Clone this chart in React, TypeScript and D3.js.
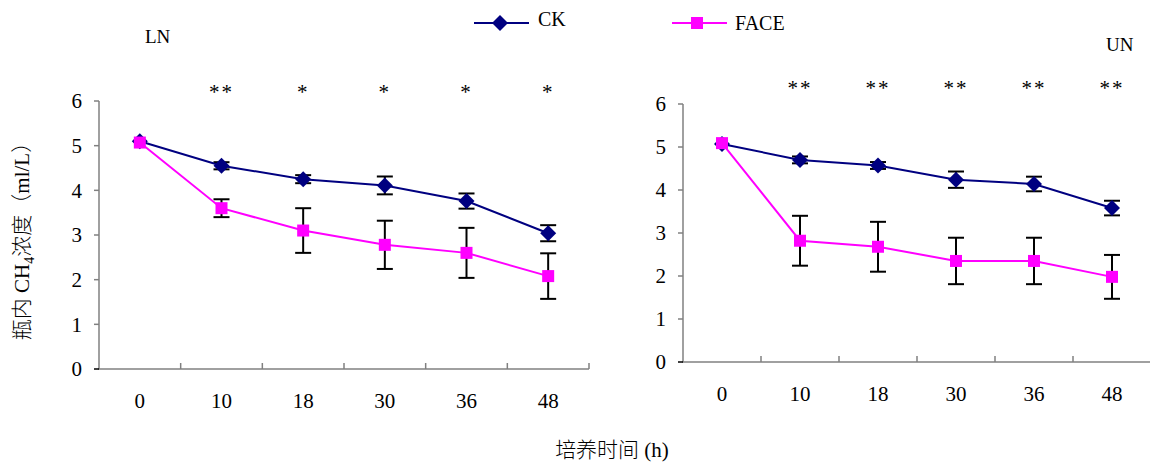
import * as d3 from "d3";

const hours = ["0", "10", "18", "30", "36", "48"];
const yTicks = [0, 1, 2, 3, 4, 5, 6];

const lnCK = [5.1, 4.55, 4.25, 4.11, 3.76, 3.04];
const lnCKErr = [0, 0.08, 0.09, 0.2, 0.17, 0.18];
const lnFACE = [5.07, 3.6, 3.1, 2.78, 2.6, 2.08];
const lnFACEErr = [0, 0.2, 0.5, 0.54, 0.56, 0.51];
const lnStars = ["", "**", "*", "*", "*", "*"];

const unCK = [5.07, 4.7, 4.57, 4.24, 4.14, 3.58];
const unCKErr = [0, 0.08, 0.08, 0.19, 0.17, 0.17];
const unFACE = [5.09, 2.82, 2.68, 2.35, 2.35, 1.98];
const unFACEErr = [0, 0.58, 0.58, 0.54, 0.54, 0.51];
const unStars = ["", "**", "**", "**", "**", "**"];

const CK_COLOR = "#000080";
const FACE_COLOR = "#FF00FF";
const AXIS = "#808080";
const FONT = "'Liberation Serif', 'Times New Roman', serif";
const CJK = "'Liberation Serif', 'Noto Sans CJK SC', serif";

// square rotated 45 degrees
const diamondPath = "M0,-8L8,0L0,8L-8,0Z";

type PanelProps = {
  x0: number;
  x1: number;
  yTop: number;
  yBottom: number;
  ck: number[];
  ckErr: number[];
  face: number[];
  faceErr: number[];
  stars: string[];
  starY: number;
};

const Panel = ({ x0, x1, yTop, yBottom, ck, ckErr, face, faceErr, stars, starY }: PanelProps) => {
  const x = d3.scaleBand().domain(hours).range([x0, x1]);
  const y = d3.scaleLinear().domain([0, 6]).range([yBottom, yTop]);
  const cx = (h: string) => (x(h) as number) + x.bandwidth() / 2;
  const line = d3
    .line<number>()
    .x((_, i) => cx(hours[i]))
    .y((d) => y(d));

  const errBar = (vals: number[], errs: number[], key: string) =>
    vals.map((v, i) =>
      errs[i] > 0 ? (
        <g key={key + i} stroke="#000" strokeWidth={2}>
          <line x1={cx(hours[i])} x2={cx(hours[i])} y1={y(v + errs[i])} y2={y(v - errs[i])} />
          <line x1={cx(hours[i]) - 8} x2={cx(hours[i]) + 8} y1={y(v + errs[i])} y2={y(v + errs[i])} />
          <line x1={cx(hours[i]) - 8} x2={cx(hours[i]) + 8} y1={y(v - errs[i])} y2={y(v - errs[i])} />
        </g>
      ) : null
    );

  return (
    <g>
      {/* axes */}
      <line x1={x0} x2={x0} y1={yTop} y2={yBottom} stroke={AXIS} strokeWidth={1.5} />
      <line x1={x0 - 1} x2={x1} y1={yBottom} y2={yBottom} stroke={AXIS} strokeWidth={1.5} />
      {yTicks.map((t) => (
        <g key={"yt" + t}>
          <line x1={x0 - 5} x2={x0} y1={y(t)} y2={y(t)} stroke={t === 0 ? "#000" : AXIS} strokeWidth={1.5} />
          <text x={x0 - 17} y={y(t)} dy="0.35em" textAnchor="end" fontSize={21} fontFamily={FONT}>
            {t}
          </text>
        </g>
      ))}
      {hours.slice(1).map((h) => (
        <line key={"xt" + h} x1={x(h)} x2={x(h)} y1={yBottom} y2={yBottom - 6} stroke={AXIS} strokeWidth={1.5} />
      ))}
      <line x1={x1} x2={x1} y1={yBottom} y2={yBottom - 6} stroke={AXIS} strokeWidth={1.5} />
      {hours.map((h) => (
        <text key={"xl" + h} x={cx(h)} y={yBottom + 39} textAnchor="middle" fontSize={21} fontFamily={FONT}>
          {h}
        </text>
      ))}
      {/* significance */}
      {stars.map((s, i) =>
        s ? (
          <text key={"s" + i} x={cx(hours[i])} y={starY} textAnchor="middle" fontSize={21} fontFamily={FONT} letterSpacing={2}>
            {s}
          </text>
        ) : null
      )}
      {errBar(ck, ckErr, "ce")}
      {errBar(face, faceErr, "fe")}
      <path d={line(ck) as string} fill="none" stroke={CK_COLOR} strokeWidth={2} />
      <path d={line(face) as string} fill="none" stroke={FACE_COLOR} strokeWidth={2} />
      {ck.map((v, i) => (
        <path key={"cp" + i} d={diamondPath} transform={`translate(${cx(hours[i])},${y(v)})`} fill={CK_COLOR} />
      ))}
      {face.map((v, i) => (
        <rect key={"fp" + i} x={cx(hours[i]) - 6} y={y(v) - 6} width={12} height={12} fill={FACE_COLOR} />
      ))}
    </g>
  );
};

export default function App() {
  return (
    <svg width={1150} height={464} style={{ position: "absolute", left: 0, top: 0 }}>
      <rect width={1150} height={464} fill="#fff" />
      <Panel
        x0={99}
        x1={589}
        yTop={101}
        yBottom={369}
        ck={lnCK}
        ckErr={lnCKErr}
        face={lnFACE}
        faceErr={lnFACEErr}
        stars={lnStars}
        starY={99}
      />
      <Panel
        x0={683}
        x1={1151}
        yTop={104}
        yBottom={362}
        ck={unCK}
        ckErr={unCKErr}
        face={unFACE}
        faceErr={unFACEErr}
        stars={unStars}
        starY={95}
      />
      <text x={145} y={43} fontSize={19} fontFamily={FONT}>LN</text>
      <text x={1106} y={51} fontSize={19} fontFamily={FONT}>UN</text>
      {/* legend */}
      <line x1={474} x2={529} y1={23} y2={23} stroke={CK_COLOR} strokeWidth={2} />
      <path d={diamondPath} transform="translate(500,23)" fill={CK_COLOR} />
      <text x={538} y={26} fontSize={20} fontFamily={FONT}>CK</text>
      <line x1={672} x2={727} y1={23} y2={23} stroke={FACE_COLOR} strokeWidth={2} />
      <rect x={691} y={17} width={12} height={12} fill={FACE_COLOR} />
      <text x={735} y={30} fontSize={20} fontFamily={FONT}>FACE</text>
      {/* axis titles */}
      <text
        transform="translate(29,236) rotate(-90)"
        textAnchor="middle"
        fontSize={21}
        fontFamily={CJK}
        fontWeight={300}
      >
        瓶内 CH<tspan dy={5} fontSize={14}>4</tspan>
        <tspan dy={-5}>浓度（ml/L）</tspan>
      </text>
      <text x={612} y={457} textAnchor="middle" fontSize={21} fontFamily={CJK} fontWeight={300}>
        培养时间  (h)
      </text>
    </svg>
  );
}
